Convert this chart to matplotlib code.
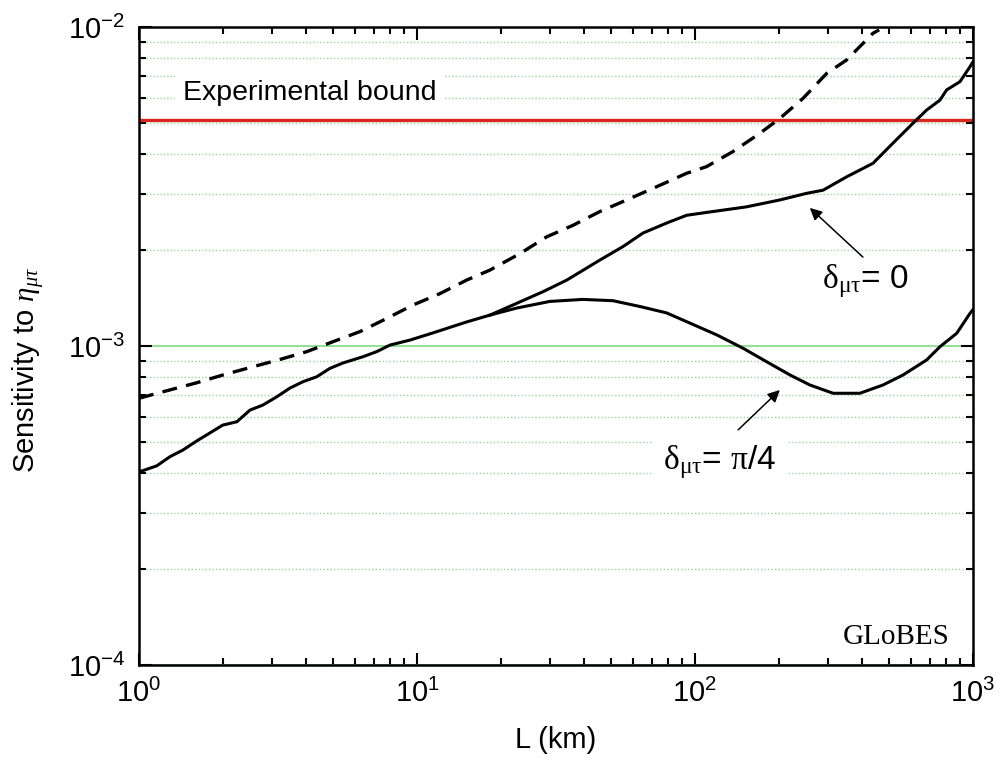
import numpy as np
import matplotlib
matplotlib.use("Agg")
import matplotlib.pyplot as plt
from matplotlib.ticker import LogLocator, NullFormatter

plt.rcParams['font.family'] = ['Liberation Sans', 'DejaVu Sans']
plt.rcParams['mathtext.fontset'] = 'custom'
plt.rcParams['mathtext.rm'] = 'Liberation Serif'
plt.rcParams['mathtext.it'] = 'Liberation Serif:italic'
plt.rcParams['mathtext.sf'] = 'Liberation Sans'

# ---- data ----
L_delta0 = [1.0, 1.158, 1.293, 1.439, 1.613, 1.80, 2.00, 2.25, 2.51, 2.79, 3.13, 3.49, 3.89,
            4.36, 4.86, 5.42, 6.40, 7.16, 8.0, 9.44, 11.4, 15.1, 18.3, 22.8, 28.4, 34.6, 45.5,
            55.1, 65.0, 79.1, 93.4, 116, 153, 202, 252, 289, 351, 437, 515, 608, 681, 761,
            804, 898, 976, 1000]
S_delta0 = [4.03e-4, 4.21e-4, 4.50e-4, 4.72e-4, 5.04e-4, 5.34e-4, 5.65e-4, 5.79e-4, 6.30e-4,
            6.53e-4, 6.93e-4, 7.38e-4, 7.73e-4, 8.01e-4, 8.51e-4, 8.85e-4, 9.26e-4, 9.60e-4,
            1.007e-3, 1.044e-3, 1.099e-3, 1.19e-3, 1.25e-3, 1.36e-3, 1.48e-3, 1.61e-3, 1.86e-3,
            2.05e-3, 2.26e-3, 2.43e-3, 2.57e-3, 2.64e-3, 2.73e-3, 2.87e-3, 3.01e-3, 3.08e-3,
            3.39e-3, 3.74e-3, 4.32e-3, 4.99e-3, 5.49e-3, 5.90e-3, 6.35e-3, 6.74e-3, 7.51e-3,
            7.77e-3]

L_pi4 = [18.3, 22.8, 30.1, 39.5, 50.7, 63.4, 79.1, 95.9, 120, 149, 181, 220, 259, 314, 392,
         475, 560, 681, 761, 874, 976, 1000]
S_pi4 = [1.25e-3, 1.315e-3, 1.38e-3, 1.40e-3, 1.387e-3, 1.33e-3, 1.27e-3, 1.18e-3, 1.083e-3,
         9.84e-4, 8.93e-4, 8.11e-4, 7.55e-4, 7.11e-4, 7.11e-4, 7.55e-4, 8.11e-4, 9.04e-4,
         9.95e-4, 1.096e-3, 1.266e-3, 1.30e-3]

L_dashed = [1.0, 1.258, 1.613, 2.00, 2.57, 3.22, 4.01, 4.99, 6.24, 7.78, 9.67, 12.1, 15.1,
            18.3, 23.5, 29.3, 36.4, 45.5, 56.8, 70.6, 93.4, 110, 137, 171, 202, 245, 298,
            351, 437, 460]
S_dashed = [6.86e-4, 7.24e-4, 7.67e-4, 8.11e-4, 8.61e-4, 9.08e-4, 9.60e-4, 1.032e-3, 1.11e-3,
            1.22e-3, 1.344e-3, 1.46e-3, 1.61e-3, 1.73e-3, 1.95e-3, 2.20e-3, 2.39e-3, 2.64e-3,
            2.87e-3, 3.12e-3, 3.48e-3, 3.65e-3, 4.07e-3, 4.64e-3, 5.17e-3, 5.98e-3, 7.16e-3,
            7.88e-3, 9.56e-3, 9.8e-3]

exp_bound = 5.1e-3

fig = plt.figure(figsize=(10.02, 7.59), dpi=100)
ax = fig.add_axes([0.1387, 0.1238, 0.8323, 0.8406])
ax.set_xscale('log')
ax.set_yscale('log')
ax.set_xlim(1, 1000)
ax.set_ylim(1e-4, 1e-2)

# grid
ax.yaxis.set_minor_locator(LogLocator(base=10, subs=np.arange(2, 10)))
ax.yaxis.set_minor_formatter(NullFormatter())
ax.xaxis.set_minor_locator(LogLocator(base=10, subs=np.arange(2, 10)))
ax.xaxis.set_minor_formatter(NullFormatter())
ax.grid(True, which='major', axis='y', color='#7fdc7f', lw=1.2, ls='-', zorder=0)
ax.grid(True, which='minor', axis='y', color='#9ed39e', lw=1.0, ls=(0, (1, 1.5)), zorder=0)

ax.axhline(exp_bound, color='#d8261e', lw=2.4, zorder=2)
ax.plot(L_dashed, S_dashed, color='black', lw=2.4, ls=(0, (4.5, 2.8)), zorder=3)
ax.plot(L_delta0, S_delta0, color='black', lw=2.2, zorder=3)
ax.plot(L_pi4, S_pi4, color='black', lw=2.2, zorder=3)

# ticks
ax.tick_params(which='both', direction='in', top=True, right=True, width=1.5)
ax.tick_params(which='major', length=9, labelsize=21)
ax.tick_params(which='minor', length=5)
ax.tick_params(axis='x', which='major', pad=10)
ax.tick_params(axis='y', which='major', pad=10)
for s in ax.spines.values():
    s.set_linewidth(1.8)

ax.set_xlabel('L (km)', fontsize=21)
ax.set_ylabel(r'Sensitivity to $\eta_{\mu\tau}$', fontsize=21)
ax.xaxis.set_label_coords(0.5, -0.095)
ax.yaxis.set_label_coords(-0.11, 0.462)

bb = dict(facecolor='white', edgecolor='none', pad=6)
ax.text(1.44, 6.21e-3, 'Experimental bound', fontsize=20.5, va='center', ha='left',
        bbox=bb, zorder=4)
ax.text(341, 1.22e-4, 'GLoBES', fontsize=21, va='center', ha='left',
        family='Liberation Serif', zorder=4)

ax.text(286, 1.60e-3, r'$\mathrm{\delta_{\mu\tau}}$= 0', fontsize=24, va='center',
        ha='left', bbox=dict(facecolor='white', edgecolor='none', pad=8), zorder=4)
ax.text(76.7, 4.33e-4, r'$\mathrm{\delta_{\mu\tau}}$= $\mathrm{\pi}$/4', fontsize=24,
        va='center', ha='left', bbox=dict(facecolor='white', edgecolor='none', pad=8), zorder=4)

ap = dict(arrowstyle='-|>', color='black', lw=1.1, mutation_scale=18, shrinkA=0, shrinkB=0)
ax.annotate('', xy=(259, 2.71e-3), xytext=(402, 1.90e-3), arrowprops=ap, zorder=5)
ax.annotate('', xy=(202, 7.28e-4), xytext=(143, 5.46e-4), arrowprops=ap, zorder=5)

fig.savefig('out.png', dpi=100)
